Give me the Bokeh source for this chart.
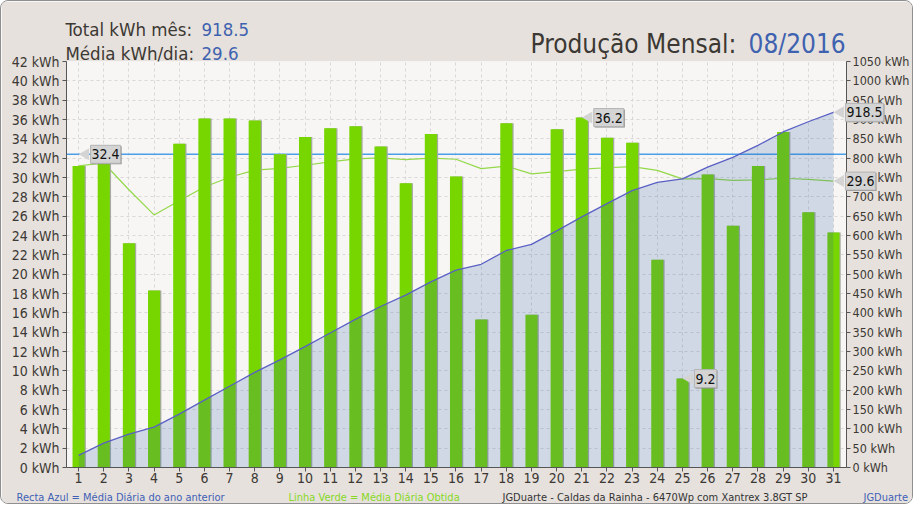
import math
from bokeh.plotting import figure
from bokeh.models import (Range1d, LinearAxis, SingleIntervalTicker, FixedTicker,
                          PrintfTickFormatter, Span)
from bokeh.core.properties import value
from bokeh.embed import file_html
from bokeh.resources import INLINE

# ---------------- data ----------------
days = list(range(1, 32))
daily_kwh = [31.2, 31.8, 23.2, 18.3, 33.5, 36.1, 36.1, 35.9, 32.4, 34.2, 35.1,
             35.3, 33.2, 29.4, 34.5, 30.1, 15.3, 35.6, 15.8, 35.0, 36.2, 34.1,
             33.6, 21.5, 9.2, 30.3, 25.0, 31.2, 34.7, 26.4, 24.3]
cumulative_kwh = [31.2, 63.0, 86.2, 104.5, 138.0, 174.1, 210.2, 246.1, 278.5,
                  312.7, 347.8, 383.1, 416.3, 445.7, 480.2, 510.3, 525.6, 561.2,
                  577.0, 612.0, 648.2, 682.3, 715.9, 737.4, 746.6, 776.9, 801.9,
                  833.1, 867.8, 894.2, 918.5]
running_avg = [31.2, 31.5, 28.73, 26.13, 27.6, 29.02, 30.03, 30.76, 30.94, 31.27,
               31.62, 31.93, 32.02, 31.84, 32.01, 31.89, 30.92, 31.18, 30.37, 30.6,
               30.87, 31.01, 31.13, 30.73, 29.86, 29.88, 29.7, 29.75, 29.92, 29.81,
               29.63]
prev_year_avg = 32.4
total_month = "918.5"
avg_day = "29.6"
month_label = "08/2016"
left_tick_step = 2
right_tick_step = 50

# ---------------- layout / style ----------------
FONT = "DejaVu Sans Condensed"
BG = "#e6e1dd"
PLOT_BG = "#f7f6f4"
TXT = "#3c3833"
BLUE_TXT = "#3f62b0"

FRAME_L, FRAME_T, FRAME_W, FRAME_H = 65, 60, 780, 406
CANVAS_H = 502
X0, X1, Y0, Y1 = 0.52, 31.52, 0, 42

p = figure(frame_width=FRAME_W, frame_height=FRAME_H, output_backend="svg",
           toolbar_location=None,
           x_range=Range1d(X0, X1), y_range=Range1d(Y0, Y1),
           min_border_left=FRAME_L, min_border_right=56, min_border_top=FRAME_T,
           min_border_bottom=CANVAS_H - FRAME_T - FRAME_H,
           background_fill_color=PLOT_BG, border_fill_color=BG,
           outline_line_color=None)
p.extra_y_ranges = {"cum": Range1d(0, 1050)}

# canvas pixel -> data helpers (used only for free-standing texts)
def cx(px):
    return X0 + (px - FRAME_L) * (X1 - X0) / FRAME_W

def cy(py):
    return Y0 + (FRAME_T + FRAME_H - py) * (Y1 - Y0) / FRAME_H

def style_axis(ax, size="14px"):
    ax.axis_line_color = "#555555"
    ax.major_tick_line_color = "#555555"
    ax.minor_tick_line_color = None
    ax.major_tick_in = 0
    ax.major_tick_out = 4
    ax.major_label_text_font = FONT
    ax.major_label_text_font_size = size
    ax.major_label_text_color = TXT
    ax.major_label_standoff = 3

p.xaxis.ticker = FixedTicker(ticks=days)
p.yaxis.ticker = SingleIntervalTicker(interval=left_tick_step, num_minor_ticks=0)
p.yaxis.formatter = PrintfTickFormatter(format="%d kWh")
right = LinearAxis(y_range_name="cum",
                   ticker=SingleIntervalTicker(interval=right_tick_step, num_minor_ticks=0),
                   formatter=PrintfTickFormatter(format="%d kWh"))
p.add_layout(right, "right")
style_axis(p.xaxis[0])
style_axis(p.yaxis[0])
style_axis(right, "12.5px")
right.major_label_standoff = 2
p.xaxis.major_label_standoff = 1

p.grid.grid_line_color = "#d8d8d8"
p.grid.grid_line_dash = "3 3"
p.grid.grid_line_width = 1

# previous-year daily average (blue straight line)
p.add_layout(Span(location=prev_year_avg, dimension="width", line_color="#4a9fe8",
                  line_width=1.5, level="underlay"))

# running average (green line)
p.line(days, running_avg, line_color="#94d84a", line_width=1.2)

# bars (thin shadow + bar)
p.vbar(x=[d + 0.05 for d in days], top=daily_kwh, width=0.48,
       fill_color="#a6aba0", line_color=None)
p.vbar(x=days, top=daily_kwh, width=0.48, fill_color="#77d600", line_color=None)

# cumulative area + line
p.varea(x=days, y1=0, y2=cumulative_kwh, fill_color="#2b5aa8", fill_alpha=0.19,
        y_range_name="cum")
p.line(days, cumulative_kwh, line_color="#5a60c4", line_width=1.3, y_range_name="cum")

# callouts (overlay-level glyphs so they are not clipped to the frame)
def callout(x, y, text, rng="default"):
    p.text(x=[x], y=[y], text=[text], x_offset=13, y_offset=1,
           text_baseline="middle", text_align="left",
           text_font=value(FONT), text_font_size="14px", text_color="#8a8a8a",
           background_fill_color="#8a8a8a", padding=(1, 4),
           y_range_name=rng, level="overlay")
    p.scatter(x=[x + 0.28], y=[y], marker="triangle", size=12, angle=math.pi / 2,
              fill_color="#d4d4d4", line_color=None, y_range_name=rng, level="overlay")
    p.text(x=[x], y=[y], text=[text], x_offset=12,
           text_baseline="middle", text_align="left",
           text_font=value(FONT), text_font_size="14px", text_color="#111111",
           background_fill_color="#d4d4d4", border_line_color="#b4b4b4",
           padding=(1, 4), y_range_name=rng, level="overlay")

imax = daily_kwh.index(max(daily_kwh))
imin = daily_kwh.index(min(daily_kwh))
callout(days[0], prev_year_avg, f"{prev_year_avg:.1f}")
callout(days[imax], daily_kwh[imax], f"{daily_kwh[imax]:.1f}")
callout(days[imin], daily_kwh[imin], f"{daily_kwh[imin]:.1f}")
callout(days[-1], cumulative_kwh[-1], f"{cumulative_kwh[-1]:.1f}", "cum")
callout(days[-1], running_avg[-1], f"{running_avg[-1]:.1f}")

# header / footer texts (canvas pixel positions, baseline-anchored)
def ctext(px, py, text, size, color):
    p.text(x=[cx(px)], y=[cy(py)], text=[text], text_font=value(FONT),
           text_font_size=size, text_color=color, text_baseline="alphabetic",
           text_align="left", level="overlay")

ctext(64, 28, "Total kWh mês:", "18.5px", TXT)
ctext(200, 28, total_month, "18.5px", BLUE_TXT)
ctext(64, 52, "Média kWh/dia:", "18.5px", TXT)
ctext(200, 52, avg_day, "18.5px", BLUE_TXT)
ctext(529, 42, "Produção Mensal:", "26px", TXT)
ctext(747, 42, month_label, "26px", BLUE_TXT)

ctext(15, 496, "Recta Azul = Média Diária do ano anterior", "11px", "#3f5fb5")
ctext(287, 496, "Linha Verde = Média Diária Obtida", "11px", "#86d824")
ctext(501, 496, "JGDuarte  -  Caldas da Rainha  -  6470Wp com Xantrex 3.8GT SP", "11px", "#333333")
ctext(862, 496, "JGDuarte", "11px", "#3f5fb5")

p.styles = {"border": "1px solid #8f8f8f", "border-radius": "8px", "overflow": "hidden"}

open("out.html", "w").write(file_html(p, INLINE))
